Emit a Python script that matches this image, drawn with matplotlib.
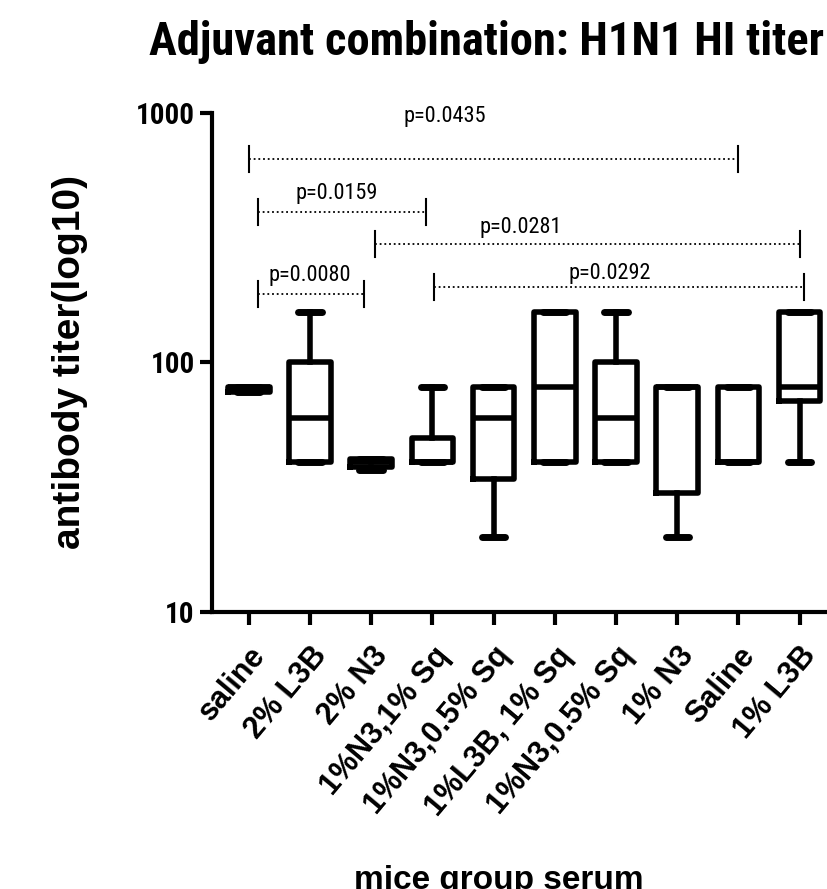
import matplotlib
matplotlib.use("Agg")
import matplotlib.pyplot as plt

groups = ["saline", "2% L3B", "2% N3", "1%N3,1% Sq", "1%N3,0.5% Sq",
          "1%L3B, 1% Sq", "1%N3,0.5% Sq", "1% N3", "Saline", "1% L3B"]
whislo = [76, 40, 37, 40, 20, 40, 40, 20, 40, 40]
q1 = [76, 40, 38, 40, 34, 40, 40, 30, 40, 70]
med = [80, 60, 40, 40, 60, 80, 60, 80, 40, 80]
q3 = [80, 100, 41, 50, 80, 160, 100, 80, 80, 160]
whishi = [80, 160, 41, 80, 80, 160, 160, 80, 80, 160]

# significance brackets: label, x start, x end, bracket height, label height
p_labels = ["p=0.0435", "p=0.0159", "p=0.0281", "p=0.0080", "p=0.0292"]
p_x0 = [0.0, 0.15, 2.07, 0.16, 3.03]
p_x1 = [8.0, 2.9, 9.0, 1.88, 9.07]
p_y = [654, 401, 298, 188, 201]
p_text_x = [3.2, 1.44, 4.45, 1.0, 5.9]
p_text_y = [966, 477, 346, 224, 228]

narrow = ["Liberation Sans Narrow", "Roboto Condensed", "DejaVu Sans"]

fig = plt.figure(figsize=(8.27, 8.89), dpi=100)
ax = fig.add_axes([0.2563, 0.3116, 0.755, 0.5613])

stats = [dict(whislo=a, q1=b, med=c, q3=d, whishi=e)
         for a, b, c, d, e in zip(whislo, q1, med, q3, whishi)]
lw = 4
ax.bxp(stats, positions=range(len(groups)), widths=0.68, showfliers=False,
       capwidths=0.38,
       boxprops=dict(color="black", linewidth=lw),
       medianprops=dict(color="black", linewidth=lw),
       whiskerprops=dict(color="black", linewidth=lw),
       capprops=dict(color="black", linewidth=lw + 1, solid_capstyle="round"))

ax.set_yscale("log")
ax.set_ylim(10, 1000)
ax.set_xlim(-0.6, 9.6)
ax.set_yticks([10, 100, 1000])
ax.set_yticklabels(["10", "100", "1000"])
ax.minorticks_off()
ax.set_xticks(range(len(groups)))
ax.set_xticklabels(groups, rotation=50, ha="right", rotation_mode="anchor",
                   fontsize=22, fontweight="bold", family="Liberation Sans")
for lab in ax.get_yticklabels():
    lab.set_fontsize(21)
    lab.set_fontweight("bold")
    lab.set_family(narrow)
    lab.set_fontstretch("condensed")

ax.spines["top"].set_visible(False)
ax.spines["right"].set_visible(False)
ax.spines["left"].set_linewidth(3)
ax.spines["bottom"].set_linewidth(3)
ax.tick_params(axis="both", width=3, length=9, direction="out")
ax.tick_params(axis="x", pad=12)

for lab, x0, x1, y, tx, ty in zip(p_labels, p_x0, p_x1, p_y, p_text_x, p_text_y):
    ax.plot([x0, x1], [y, y], color="black", lw=1.3, linestyle=(0, (1, 1.6)))
    for xe in (x0, x1):
        ax.plot([xe, xe], [y / 1.13, y * 1.13], color="black", lw=1.5)
    ax.text(tx, ty, lab, ha="center", va="center", fontsize=16,
            family=narrow, fontstretch="condensed")

ax.set_ylabel("antibody titer(log10)", fontsize=28, fontweight="bold",
              family="Liberation Sans", labelpad=34)
fig.text(0.603, 0.0, "mice group serum", ha="center", va="baseline",
         fontsize=24, fontweight="bold", family="Liberation Sans")
fig.suptitle("Adjuvant combination: H1N1 HI titer", x=0.588, y=0.953,
             va="center", fontsize=33.5, fontweight="bold", family=narrow,
             fontstretch="condensed")

fig.savefig("out.png", dpi=100)
